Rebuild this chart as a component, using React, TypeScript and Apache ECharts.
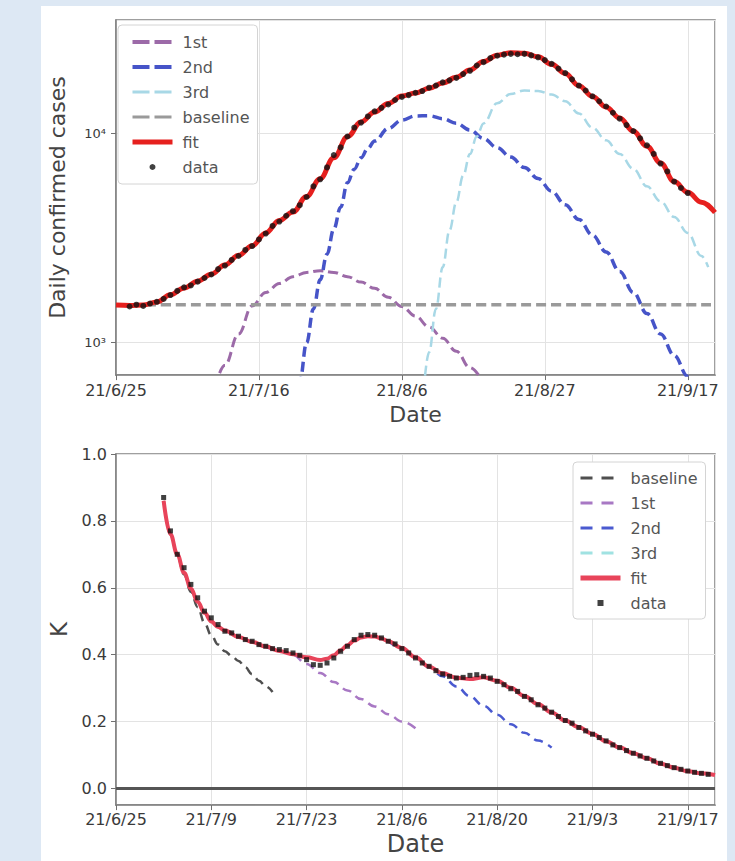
import React, { useEffect, useRef } from 'react';
import * as echarts from 'echarts';

// ---- dates: day offsets from 2021-06-25 ----
const BASE_DATE = Date.UTC(2021, 5, 25);

// ---- upper panel: daily confirmed cases (log scale) ----
const topFitDays = [0, 2, 4, 6, 8, 10, 12, 14, 16, 18, 20, 22, 24, 26, 28, 30, 32, 34, 36, 38, 40, 42, 44, 46, 48, 50, 52, 54, 56, 58, 60, 62, 64, 66, 68, 70, 72, 74, 76, 78, 80, 82, 84, 86, 88];
const topFit = [1514, 1507, 1514, 1567, 1698, 1828, 1968, 2128, 2355, 2618, 2911, 3350, 3846, 4217, 5012, 6095, 7674, 9660, 11376, 12706, 13964, 15136, 15668, 16520, 17500, 18620, 20180, 22130, 23710, 24430, 24270, 23330, 21480, 19410, 16980, 15070, 13430, 11890, 10280, 8710, 7244, 5900, 5250, 4700, 4200];

const topDataStartDay = 2;
const topData = [1490, 1520, 1500, 1540, 1570, 1620, 1690, 1770, 1840, 1880, 1960, 2040, 2120, 2250, 2340, 2490, 2600, 2780, 2900, 3120, 3330, 3620, 3800, 4050, 4260, 4550, 4980, 5600, 6050, 6900, 7900, 8600, 9700, 10700, 11300, 12100, 12800, 13300, 13800, 14500, 15000, 15300, 15700, 16000, 16600, 17000, 17600, 18000, 18500, 19300, 20000, 21200, 22000, 23000, 23600, 23900, 24100, 24000, 24100, 23700, 23200, 22500, 21600, 20500, 19500, 18200, 17000, 16100, 15100, 14300, 13500, 12600, 11800, 11000, 10300, 9500, 8800, 8000, 7200, 6600, 5900, 5500, 5200];

const topFirstDays = [14, 16, 18, 20, 22, 24, 26, 28, 30, 32, 34, 36, 38, 40, 42, 44, 46, 48, 50, 52, 54];
const topFirst = [520, 780, 1100, 1500, 1740, 1920, 2070, 2170, 2210, 2170, 2070, 1950, 1820, 1650, 1490, 1340, 1190, 1050, 910, 760, 640];

const topSecondDays = [26, 27, 28, 29, 30, 31, 32, 33, 34, 35, 36, 37, 38, 40, 42, 44, 46, 48, 50, 52, 54, 56, 58, 60, 62, 64, 66, 68, 70, 72, 74, 76, 78, 80, 82, 84, 86];
const topSecond = [380, 650, 1000, 1450, 2000, 2650, 3500, 4450, 5820, 6760, 7670, 8510, 9230, 10590, 11610, 12160, 12190, 11800, 11220, 10420, 9480, 8570, 7730, 6890, 6100, 5310, 4570, 3890, 3270, 2720, 2190, 1740, 1380, 1100, 870, 690, 550];

const topThirdDays = [45, 46, 47, 48, 49, 50, 51, 52, 53, 54, 56, 58, 60, 62, 64, 66, 68, 70, 72, 74, 76, 78, 80, 82, 84, 86, 87];
const topThird = [500, 900, 1450, 2300, 3450, 4700, 6300, 8000, 9700, 11200, 14000, 15500, 16100, 16000, 15400, 14300, 12500, 10700, 9300, 8000, 6800, 5600, 4750, 4000, 3350, 2600, 2300];

const topBaselineDays = [0, 88];
const topBaseline = [1520, 1520];

// ---- lower panel: K ----
const botFitDays = [7, 8, 9, 10, 11, 12, 13, 14, 15, 16, 18, 20, 22, 24, 26, 28, 30, 31, 32, 33, 34, 35, 36, 37, 38, 39, 40, 42, 44, 46, 48, 50, 52, 54, 56, 58, 60, 62, 64, 66, 68, 70, 72, 74, 76, 78, 80, 82, 84, 86, 88];
const botFit = [0.86, 0.76, 0.70, 0.645, 0.598, 0.558, 0.525, 0.499, 0.483, 0.472, 0.453, 0.438, 0.424, 0.411, 0.401, 0.392, 0.384, 0.388, 0.398, 0.413, 0.428, 0.442, 0.451, 0.455, 0.454, 0.448, 0.440, 0.420, 0.392, 0.364, 0.344, 0.331, 0.327, 0.332, 0.322, 0.301, 0.276, 0.252, 0.227, 0.203, 0.183, 0.163, 0.141, 0.122, 0.105, 0.090, 0.074, 0.062, 0.051, 0.045, 0.040];

const botDataStartDay = 7;
const botData = [0.87, 0.77, 0.70, 0.66, 0.61, 0.57, 0.53, 0.51, 0.49, 0.47, 0.465, 0.455, 0.445, 0.44, 0.43, 0.425, 0.418, 0.415, 0.412, 0.405, 0.398, 0.385, 0.370, 0.368, 0.375, 0.39, 0.41, 0.425, 0.445, 0.458, 0.46, 0.458, 0.45, 0.44, 0.432, 0.418, 0.405, 0.39, 0.375, 0.365, 0.352, 0.342, 0.335, 0.33, 0.332, 0.338, 0.34, 0.335, 0.33, 0.32, 0.31, 0.298, 0.29, 0.275, 0.265, 0.25, 0.24, 0.228, 0.215, 0.203, 0.195, 0.182, 0.172, 0.162, 0.152, 0.142, 0.13, 0.122, 0.113, 0.105, 0.097, 0.09, 0.082, 0.075, 0.068, 0.062, 0.057, 0.052, 0.048, 0.045, 0.042];

const botBaselineDays = [7, 8, 9, 10, 11, 12, 13, 14, 15, 16, 17, 18, 19, 20, 21, 22, 23];
const botBaseline = [0.86, 0.76, 0.698, 0.64, 0.588, 0.542, 0.495, 0.458, 0.43, 0.41, 0.396, 0.381, 0.362, 0.341, 0.322, 0.305, 0.288];

const botFirstDays = [22, 24, 26, 28, 30, 32, 34, 36, 38, 40, 42, 44];
const botFirst = [0.424, 0.411, 0.399, 0.372, 0.345, 0.318, 0.293, 0.267, 0.245, 0.222, 0.2, 0.18];

const botSecondDays = [40, 42, 44, 46, 48, 50, 52, 54, 56, 58, 60, 62, 64];
const botSecond = [0.44, 0.42, 0.392, 0.362, 0.335, 0.305, 0.275, 0.247, 0.22, 0.192, 0.166, 0.143, 0.122];

const botThirdDays = [54, 56, 58, 60, 62, 64, 66, 68, 70, 72, 74, 76, 78, 80, 82, 84, 86, 88];
const botThird = [0.332, 0.322, 0.301, 0.276, 0.252, 0.227, 0.203, 0.183, 0.163, 0.141, 0.122, 0.105, 0.090, 0.074, 0.062, 0.051, 0.045, 0.040];

const FONT = 'DejaVu Sans';
const SUP: Record<number, string> = { 0: '⁰', 1: '¹', 2: '²', 3: '³', 4: '⁴', 5: '⁵' };

function dayLabel(v: number): string {
  const t = new Date(BASE_DATE + Math.round(v) * 86400000);
  return `21/${t.getUTCMonth() + 1}/${t.getUTCDate()}`;
}
const pairs = (days: number[], vals: number[]) => days.map((d, i) => [d, vals[i]]);
const seqDays = (start: number, vals: number[]) => vals.map((_, i) => start + i);

const axisLineStyle = { color: '#808080', width: 1.5 };
const splitLineStyle = { color: '#e3e3e3', width: 1 };
const labelColor = '#3a3a3a';
const hideSym = { opacity: 0, color: 'rgba(0,0,0,0)', borderWidth: 0 };
const SQUARE = 'path://M0,0L10,0L10,10L0,10Z';

function lineSeries(name: string, days: number[], vals: number[], color: string, width: number, dash: any, z = 2) {
  return {
    name,
    type: 'line',
    z,
    data: pairs(days, vals),
    smooth: 0.4,
    smoothMonotone: 'x',
    symbol: 'none',
    lineStyle: { color, width, type: dash },
    itemStyle: { color },
  };
}

function buildTop(): any {
  const C1 = '#9c6aa8', C2 = '#4654c8', C3 = '#a8d8e6', CB = '#9a9a9a', CF = '#e6201e';
  return {
    animation: false,
    textStyle: { fontFamily: FONT },
    grid: { left: 116, top: 20, width: 599, height: 358, show: true, borderColor: '#808080', borderWidth: 1.5, backgroundColor: '#fff' },
    legend: {
      orient: 'vertical', left: 118, top: 25, padding: [9, 8, 9, 12], itemGap: 9, itemWidth: 40, itemHeight: 6,
      backgroundColor: '#fff', borderColor: '#d4d4d4', borderWidth: 1, borderRadius: 4, selectedMode: false, z: 10,
      textStyle: { fontSize: 16, color: '#555', lineHeight: 16, padding: [0, 0, 0, 5], fontFamily: FONT },
      data: [
        { name: '1st', itemStyle: hideSym, lineStyle: { width: 4, type: [17, 5] } },
        { name: '2nd', itemStyle: hideSym, lineStyle: { width: 4, type: [17, 5] } },
        { name: '3rd', itemStyle: hideSym, lineStyle: { width: 3, type: [17, 5] } },
        { name: 'baseline', itemStyle: hideSym, lineStyle: { width: 3, type: [17, 5] } },
        { name: 'fit', itemStyle: hideSym, lineStyle: { width: 5, type: 'solid' } },
        { name: 'data', icon: 'circle' },
      ],
    },
    xAxis: {
      type: 'value', min: 0, max: 88, interval: 21,
      name: 'Date', nameLocation: 'middle', nameGap: 21,
      nameTextStyle: { fontSize: 22, color: '#444', fontFamily: FONT },
      axisLine: { show: true, onZero: false, lineStyle: axisLineStyle },
      axisTick: { show: true, length: 5, lineStyle: { color: '#707070' } },
      axisLabel: { fontSize: 16, color: labelColor, margin: 7, showMaxLabel: false, formatter: (v: number) => dayLabel(v) },
      splitLine: { show: true, lineStyle: splitLineStyle },
    },
    yAxis: {
      type: 'log', logBase: 10, min: 700, max: 35000,
      name: 'Daily confirmed cases', nameLocation: 'middle', nameGap: 48,
      nameTextStyle: { fontSize: 22, color: '#444', fontFamily: FONT },
      axisLine: { show: true, lineStyle: axisLineStyle },
      axisTick: { show: true, length: 5, lineStyle: { color: '#707070' } },
      axisLabel: {
        fontSize: 13, color: labelColor, margin: 10, showMinLabel: false, showMaxLabel: false,
        formatter: (v: number) => {
          const l = Math.log10(v);
          const e = Math.round(l);
          return Math.abs(l - e) < 1e-6 ? `10${SUP[e] ?? ''}` : '';
        },
      },
      splitLine: { show: true, lineStyle: splitLineStyle },
    },
    series: [
      lineSeries('1st', topFirstDays, topFirst, C1, 3, [10, 5]),
      lineSeries('2nd', topSecondDays, topSecond, C2, 3.5, [10, 5]),
      lineSeries('3rd', topThirdDays, topThird, C3, 2.5, [10, 5]),
      lineSeries('baseline', topBaselineDays, topBaseline, CB, 3.5, [10, 5]),
      lineSeries('fit', topFitDays, topFit, CF, 5, 'solid', 3),
      {
        name: 'data', type: 'scatter', symbol: 'circle', symbolSize: 6, z: 5,
        data: pairs(seqDays(topDataStartDay, topData), topData),
        itemStyle: { color: '#111' },
      },
    ],
  };
}

function buildBottom(): any {
  const CB = '#4f4f4f', C1 = '#a878c4', C2 = '#4a5ad0', C3 = '#a0e2e2', CF = '#e8445a';
  return {
    animation: false,
    textStyle: { fontFamily: FONT },
    grid: { left: 116, top: 24, width: 599, height: 354, show: true, borderColor: '#808080', borderWidth: 1.5, backgroundColor: '#fff' },
    legend: {
      orient: 'vertical', left: 573, top: 32, padding: [8, 8, 8, 5], itemGap: 9, itemWidth: 40, itemHeight: 6,
      backgroundColor: '#fff', borderColor: '#d4d4d4', borderWidth: 1, borderRadius: 4, selectedMode: false, z: 10,
      textStyle: { fontSize: 16, color: '#555', lineHeight: 16, padding: [0, 0, 0, 5], fontFamily: FONT },
      data: [
        { name: 'baseline', itemStyle: hideSym, lineStyle: { width: 3, type: [12, 9] } },
        { name: '1st', itemStyle: hideSym, lineStyle: { width: 3, type: [12, 9] } },
        { name: '2nd', itemStyle: hideSym, lineStyle: { width: 3, type: [12, 9] } },
        { name: '3rd', itemStyle: hideSym, lineStyle: { width: 3, type: [12, 9] } },
        { name: 'fit', itemStyle: hideSym, lineStyle: { width: 5, type: 'solid' } },
        { name: 'data', icon: SQUARE },
      ],
    },
    xAxis: {
      type: 'value', min: 0, max: 88, interval: 14,
      name: 'Date', nameLocation: 'middle', nameGap: 25,
      nameTextStyle: { fontSize: 24, color: '#444', fontFamily: FONT },
      axisLine: { show: true, onZero: false, lineStyle: axisLineStyle },
      axisTick: { show: true, length: 5, lineStyle: { color: '#707070' } },
      axisLabel: { fontSize: 16, color: labelColor, margin: 6, showMaxLabel: false, formatter: (v: number) => dayLabel(v) },
      splitLine: { show: true, lineStyle: splitLineStyle },
    },
    yAxis: {
      type: 'value', min: -0.05, max: 1.0,
      name: 'K', nameLocation: 'middle', nameGap: 44,
      nameTextStyle: { fontSize: 23, color: '#444', fontFamily: FONT },
      axisLine: { show: true, lineStyle: axisLineStyle },
      axisTick: { show: true, length: 5, lineStyle: { color: '#707070' } },
      axisLabel: { fontSize: 16, color: labelColor, margin: 9, showMinLabel: false, formatter: (v: number) => v.toFixed(1) },
      splitLine: { show: true, lineStyle: splitLineStyle },
    },
    series: [
      lineSeries('baseline', botBaselineDays, botBaseline, CB, 2.5, [9, 6]),
      lineSeries('1st', botFirstDays, botFirst, C1, 2.5, [9, 6]),
      lineSeries('2nd', botSecondDays, botSecond, C2, 2.5, [9, 6]),
      lineSeries('3rd', botThirdDays, botThird, C3, 2.5, [9, 6]),
      {
        ...lineSeries('fit', botFitDays, botFit, CF, 4, 'solid', 3),
        markLine: {
          silent: true, symbol: ['none', 'none'], label: { show: false },
          lineStyle: { color: '#555', width: 3, type: 'solid' },
          data: [{ yAxis: 0 }],
        },
      },
      {
        name: 'data', type: 'scatter', symbol: 'rect', symbolSize: 5, z: 5,
        data: pairs(seqDays(botDataStartDay, botData), botData),
        itemStyle: { color: '#111' },
      },
    ],
  };
}

export default function App() {
  const topRef = useRef<HTMLDivElement>(null);
  const botRef = useRef<HTMLDivElement>(null);
  useEffect(() => {
    const c1 = echarts.init(topRef.current as HTMLDivElement, null, { renderer: 'svg' });
    c1.setOption(buildTop());
    const c2 = echarts.init(botRef.current as HTMLDivElement, null, { renderer: 'svg' });
    c2.setOption(buildBottom());
    return () => {
      c1.dispose();
      c2.dispose();
    };
  }, []);
  return (
    <div style={{ position: 'fixed', left: 0, top: 0, width: 735, height: 861, background: '#dde8f4', overflow: 'hidden' }}>
      <div style={{ position: 'absolute', left: 41, top: 6, width: 686, height: 855, background: '#fff' }} />
      <div ref={topRef} style={{ position: 'absolute', left: 0, top: 0, width: 735, height: 430 }} />
      <div ref={botRef} style={{ position: 'absolute', left: 0, top: 430, width: 735, height: 431 }} />
    </div>
  );
}
